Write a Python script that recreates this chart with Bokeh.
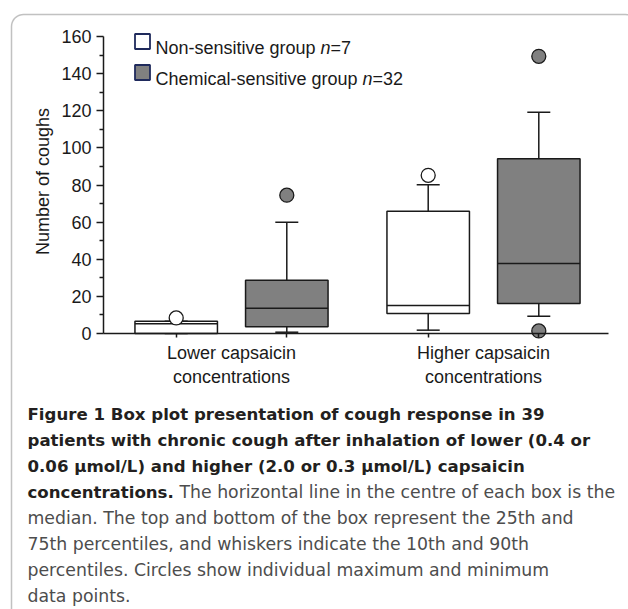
import numpy as np
from bokeh.plotting import figure
from bokeh.models import Range1d, FixedTicker, Label, PolyAnnotation
from bokeh.embed import file_html
from bokeh.resources import INLINE

# ---------------- data ----------------
concentrations = ["Lower capsaicin\nconcentrations", "Higher capsaicin\nconcentrations"]
groups = ["Non-sensitive group", "Chemical-sensitive group"]
group_n = [7, 32]

# boxes in order: lower/non-sensitive, lower/chemical, higher/non-sensitive, higher/chemical
box_conc = [0, 0, 1, 1]
box_group = [0, 1, 0, 1]
p10 = [0.0, 0.7, 1.8, 9.3]
q1 = [0.0, 3.6, 10.8, 16.2]
median = [5.2, 13.6, 15.1, 37.7]
q3 = [6.6, 28.7, 65.9, 94.2]
p90 = [6.6, 60.0, 80.2, 119.2]
maximum = [8.4, 74.5, 85.2, 149.3]
minimum = [np.nan, np.nan, np.nan, 1.4]

y_major = list(range(0, 161, 20))
y_minor = list(range(10, 160, 20))
y_label = "Number of coughs"

caption_bold = [
    "Figure 1 Box plot presentation of cough response in 39",
    "patients with chronic cough after inhalation of lower (0.4 or",
    "0.06 \u00b5mol/L) and higher (2.0 or 0.3 \u00b5mol/L) capsaicin",
    "concentrations.",
]
caption_regular = [
    "The horizontal line in the centre of each box is the",
    "median. The top and bottom of the box represent the 25th and",
    "75th percentiles, and whiskers indicate the 10th and 90th",
    "percentiles. Circles show individual maximum and minimum",
    "data points.",
]

# ---------------- layout ----------------
W, H = 628, 609
AX_X = 103         # canvas x of the y axis (x = 0)
AX_W = 505         # length of the x axis in px
Y0 = 333           # canvas y of count 0
K = 297 / 160      # px per count
GROUP_X = [128, 380]
OFFSET = 55.3
BOX_W = 82.5
CAP_W = 23

xs = np.array([GROUP_X[c] + (-OFFSET if g == 0 else OFFSET) for c, g in zip(box_conc, box_group)])
fills = ["white" if g == 0 else "#808080" for g in box_group]


def dx(px):  # canvas x -> data x
    return px - AX_X


def dy(py):  # canvas y -> data y (counts)
    return (Y0 - py) / K


p = figure(width=W, height=H, output_backend="svg", toolbar_location=None,
           x_range=Range1d(-AX_X, W - AX_X), y_range=Range1d((Y0 - H) / K, Y0 / K),
           min_border=0, min_border_left=0, min_border_right=0, min_border_top=0,
           min_border_bottom=0)
p.outline_line_color = None
p.xgrid.visible = False
p.ygrid.visible = False
p.background_fill_color = "white"
p.border_fill_color = "white"

AX_FONT = "Liberation Sans"
AX_SIZE = "18px"
AX_COL = "#1a1a1a"

yax = p.yaxis[0]
yax.fixed_location = 0
yax.ticker = FixedTicker(ticks=y_major, minor_ticks=y_minor)
yax.bounds = (0, 160)
yax.axis_line_width = 1.5
yax.axis_line_color = AX_COL
yax.major_tick_line_width = 1.5
yax.minor_tick_line_width = 1.5
yax.major_tick_line_color = AX_COL
yax.minor_tick_line_color = AX_COL
yax.major_tick_in = 0
yax.major_tick_out = 7
yax.minor_tick_in = 0
yax.minor_tick_out = 4
yax.major_label_standoff = 5
yax.major_label_text_font = AX_FONT
yax.major_label_text_font_size = AX_SIZE
yax.major_label_text_color = AX_COL

xax = p.xaxis[0]
xax.fixed_location = 0
xax.bounds = (0, AX_W)
xax.ticker = FixedTicker(ticks=GROUP_X, minor_ticks=list(xs))
xax.major_label_overrides = {GROUP_X[i]: concentrations[i] for i in range(2)}
xax.axis_line_width = 1.5
xax.axis_line_color = AX_COL
xax.major_tick_line_color = None
xax.major_tick_in = 0
xax.major_tick_out = 0
xax.minor_tick_in = 0
xax.minor_tick_out = 4
xax.minor_tick_line_width = 1.5
xax.minor_tick_line_color = AX_COL
xax.major_label_standoff = 5
xax.major_label_text_font = AX_FONT
xax.major_label_text_font_size = AX_SIZE
xax.major_label_text_color = AX_COL

p.add_layout(Label(x=dx(42), y=dy(181), text=y_label, angle=np.pi / 2, text_font=AX_FONT,
                   text_font_size=AX_SIZE, text_color=AX_COL, text_align="center",
                   text_baseline="middle"))

# ---------------- boxes ----------------
LC = "#1a1a1a"
p.segment(x0=xs, y0=q3, x1=xs, y1=p90, line_color=LC, line_width=1.5)
p.segment(x0=xs, y0=q1, x1=xs, y1=p10, line_color=LC, line_width=1.5)
p.segment(x0=xs - CAP_W / 2, y0=p90, x1=xs + CAP_W / 2, y1=p90, line_color=LC, line_width=1.5)
p.segment(x0=xs - CAP_W / 2, y0=p10, x1=xs + CAP_W / 2, y1=p10, line_color=LC, line_width=1.5)
p.vbar(x=xs, width=BOX_W, bottom=q1, top=q3, fill_color=fills, line_color=LC, line_width=1.5)
p.segment(x0=xs - BOX_W / 2, y0=median, x1=xs + BOX_W / 2, y1=median, line_color=LC, line_width=1.5)
p.scatter(x=xs, y=maximum, size=14, marker="circle", fill_color=fills, line_color=LC, line_width=1.3)
p.scatter(x=xs, y=minimum, size=14, marker="circle", fill_color=fills, line_color=LC, line_width=1.3)

# ---------------- legend ----------------
LEG_NAVY = "#1f2a5c"
leg_sq_y = [41, 72]
leg_base = [47, 78]
leg_fill = ["white", "#808080"]
leg_w = [165.1, 207.1]   # width of "<group> " in Liberation Sans 18px
N_W = 10.0
for i in range(2):
    p.scatter(x=[dx(142)], y=[dy(leg_sq_y[i])], marker="square", size=15,
              fill_color=leg_fill[i], line_color=LEG_NAVY, line_width=1.8)
    x0 = 155
    p.add_layout(Label(x=dx(x0), y=dy(leg_base[i]), text=groups[i], text_font=AX_FONT,
                       text_font_size=AX_SIZE, text_color=AX_COL, text_baseline="alphabetic"))
    p.add_layout(Label(x=dx(x0 + leg_w[i]), y=dy(leg_base[i]), text="n", text_font=AX_FONT,
                       text_font_size=AX_SIZE, text_font_style="italic", text_color=AX_COL,
                       text_baseline="alphabetic"))
    p.add_layout(Label(x=dx(x0 + leg_w[i] + N_W), y=dy(leg_base[i]), text="=%d" % group_n[i],
                       text_font=AX_FONT, text_font_size=AX_SIZE, text_color=AX_COL,
                       text_baseline="alphabetic"))

# ---------------- caption ----------------
CAP_FONT = "DejaVu Sans"
CAP_X = 27
CAP_Y0 = 414
CAP_DY = 25.9
for i, t in enumerate(caption_bold):
    p.add_layout(Label(x=dx(CAP_X), y=dy(CAP_Y0 + i * CAP_DY), text=t, text_font=CAP_FONT,
                       text_font_size="16.6px", text_font_style="bold", text_color="#231f20",
                       text_baseline="alphabetic"))
for j, t in enumerate(caption_regular):
    line = j + 3
    x = 179 if j == 0 else CAP_X
    p.add_layout(Label(x=dx(x), y=dy(CAP_Y0 + line * CAP_DY), text=t, text_font=CAP_FONT,
                       text_font_size="17.3px", text_color="#4d4d4d",
                       text_baseline="alphabetic"))

# ---------------- frame border ----------------
R = 12
bx, by = [11], [700]
for t in np.linspace(np.pi, 1.5 * np.pi, 10):
    bx.append(23 + R * np.cos(t)); by.append(26 + R * np.sin(t))
for t in np.linspace(1.5 * np.pi, 2 * np.pi, 10):
    bx.append(625 + R * np.cos(t)); by.append(26 + R * np.sin(t))
bx.append(637); by.append(700)
p.add_layout(PolyAnnotation(xs=[dx(v) for v in bx], ys=[dy(v) for v in by],
                            xs_units="data", ys_units="data", fill_color=None,
                            line_color="#333333", line_width=1.5))

open("out.html", "w").write(file_html(p, INLINE))
